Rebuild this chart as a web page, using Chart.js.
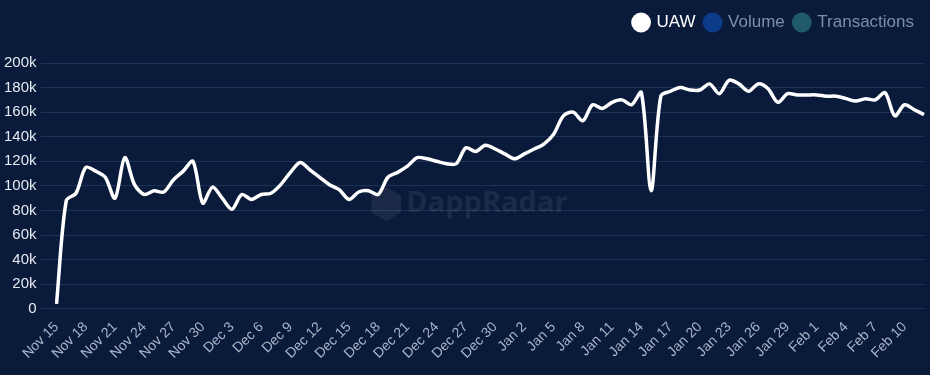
<!DOCTYPE html>
<html>
<head>
<meta charset="utf-8">
<script src="https://cdn.jsdelivr.net/npm/chart.js@4"></script>
<style>
  html, body { margin: 0; padding: 0; background: #0a1a3a; }
  #wrap { width: 930px; height: 375px; }
</style>
</head>
<body>
<div id="wrap"><canvas id="chartUaw"></canvas></div>
<script>
// dias: Nov 15 .. Feb 12
const months = ['Nov', 'Dec', 'Jan', 'Feb'];
const monthDays = [30, 31, 31, 29];
const labels = [];
(function () {
  let m = 0, d = 15;
  for (let i = 0; i < 90; i++) {
    labels.push(months[m] + ' ' + d);
    d++;
    if (d > monthDays[m]) { d = 1; m++; }
  }
})();

const uawData = [
  4000, 88000, 94000, 115000, 112000, 107000, 90000, 123000, 101000, 93000,
  96000, 95000, 105000, 112000, 120000, 86000, 99000, 90000, 81000, 93000,
  89000, 93000, 94000, 101000, 111000, 119000, 113000, 107000, 101000, 97000,
  89000, 95000, 96000, 93000, 107000, 111000, 116000, 123000, 122000, 120000,
  118000, 118000, 131000, 128000, 133000, 130000, 126000, 122000, 126000, 130000,
  134000, 142000, 157000, 160000, 153000, 166000, 163000, 168000, 170000, 166000,
  176000, 96000, 173000, 177000, 180000, 178000, 178000, 183000, 175000, 186000,
  183000, 177000, 183000, 179000, 168000, 175000, 174000, 174000, 174000, 173000,
  173000, 171000, 169000, 171000, 170000, 176000, 157000, 166000, 162000, 158000
];
const volumeData = [];
const txData = [];

const legendColors = ['#ffffff', '#0d3b8c', '#1f5a6b'];
const legendText = ['#ffffff', '#7f8ea6', '#7f8ea6'];

const watermark = {
  id: 'watermark',
  beforeDatasetsDraw(chart) {
    const { ctx, chartArea } = chart;
    const cx = (chartArea.left + chartArea.right) / 2;
    const cy = 204;
    ctx.save();
    ctx.fillStyle = 'rgba(255,255,255,0.07)';
    ctx.font = 'bold 29px "Open Sans", sans-serif';
    ctx.textBaseline = 'middle';
    ctx.fillText('DappRadar', cx - 84, cy);
    ctx.beginPath();
    for (let k = 0; k < 6; k++) {
      const a = Math.PI / 3 * k + Math.PI / 6;
      const px = cx - 104 + 17 * Math.cos(a), py = cy + 17 * Math.sin(a);
      if (k === 0) ctx.moveTo(px, py); else ctx.lineTo(px, py);
    }
    ctx.closePath();
    ctx.fill();
    ctx.restore();
  }
};

const bg = {
  id: 'bg',
  beforeDraw(chart) {
    const ctx = chart.ctx;
    ctx.save();
    ctx.fillStyle = '#0a1a3a';
    ctx.fillRect(0, 0, chart.width, chart.height);
    ctx.restore();
  }
};

// espaco extra abaixo da legenda
const legendGap = {
  id: 'legendGap',
  beforeInit(chart) {
    const origFit = chart.legend.fit;
    chart.legend.fit = function () {
      origFit.bind(chart.legend)();
      this.height += 22;
    };
  }
};

const chartUaw = document.getElementById('chartUaw');

new Chart(chartUaw, {
  type: 'line',
  data: {
    labels: labels,
    datasets: [{
      label: 'UAW',
      data: uawData,
      borderColor: '#ffffff',
      backgroundColor: '#ffffff',
      borderWidth: 3.5,
      tension: 0.3,
      pointRadius: 0,
      fill: false
    }, {
      label: 'Volume',
      data: volumeData,
      borderColor: legendColors[1],
      backgroundColor: legendColors[1]
    }, {
      label: 'Transactions',
      data: txData,
      borderColor: legendColors[2],
      backgroundColor: legendColors[2]
    }]
  },
  options: {
    responsive: true,
    maintainAspectRatio: false,
    animation: false,
    layout: { padding: { left: 0, right: 6, top: 4, bottom: 11 } },
    plugins: {
      tooltip: { enabled: false },
      legend: {
        align: 'end',
        onClick: null,
        labels: {
          usePointStyle: true,
          pointStyle: 'circle',
          boxWidth: 14,
          boxHeight: 14,
          padding: 10,
          font: { family: 'Arial, "Liberation Sans", sans-serif', size: 17 },
          generateLabels(chart) {
            return chart.data.datasets.map((ds, i) => ({
              text: ds.label,
              fillStyle: legendColors[i],
              strokeStyle: legendColors[i],
              lineWidth: 0,
              fontColor: legendText[i],
              pointStyle: 'circle',
              hidden: false,
              datasetIndex: i
            }));
          }
        }
      }
    },
    scales: {
      x: {
        grid: { display: false },
        border: { display: false },
        ticks: {
          autoSkip: false,
          maxRotation: 45,
          minRotation: 45,
          color: '#a7b4c8',
          padding: 2,
          font: { family: 'Arial, "Liberation Sans", sans-serif', size: 14 },
          callback: function (v, i) { return i % 3 === 0 ? labels[i] : null; }
        }
      },
      y: {
        min: 0,
        max: 200000,
        border: { display: false },
        grid: { color: '#1d3257', lineWidth: 1, tickLength: 16, drawTicks: true },
        ticks: {
          stepSize: 20000,
          color: '#e6ebf2',
          padding: 4,
          font: { family: 'Arial, "Liberation Sans", sans-serif', size: 15 },
          callback: v => v === 0 ? '0' : (v / 1000) + 'k'
        }
      }
    }
  },
  plugins: [bg, watermark, legendGap]
});
</script>
</body>
</html>
